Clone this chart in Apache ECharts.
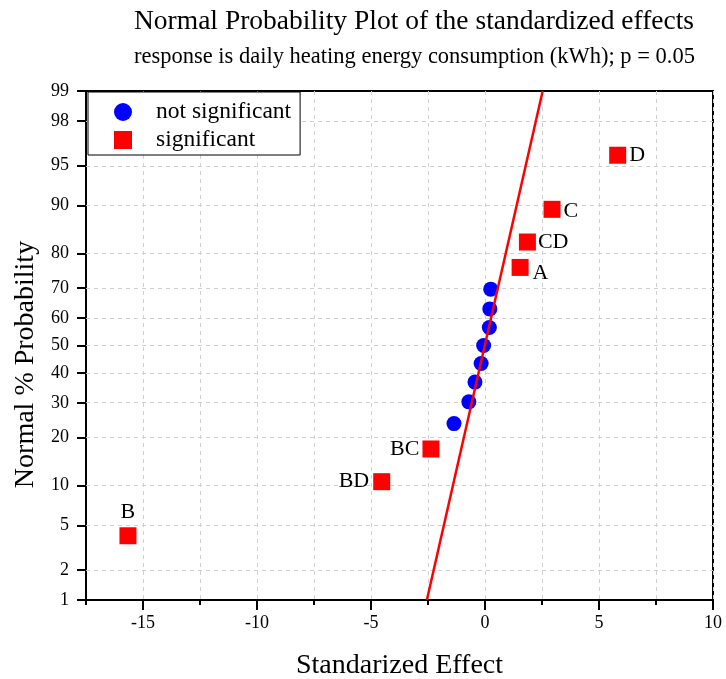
<!DOCTYPE html>
<html>
<head>
<meta charset="utf-8">
<script src="https://cdn.jsdelivr.net/npm/echarts@6/dist/echarts.min.js"></script>
<style>html,body{margin:0;padding:0;background:#fff;}#chart{width:726px;height:679px;}</style>
</head>
<body>
<div id="chart"></div>
<script>
// ---- data ----
const notSigX = [-1.36, -0.71, -0.44, -0.17, -0.06, 0.19, 0.21, 0.25];
const notSigP = [23.77, 30.33, 36.89, 43.44, 50.00, 56.56, 63.11, 69.67];
const sigNames = ['B', 'BD', 'BC', 'A', 'CD', 'C', 'D'];
const sigX = [-15.66, -4.53, -2.37, 1.54, 1.86, 2.94, 5.82];
const sigP = [4.10, 10.66, 17.21, 76.23, 82.79, 89.34, 95.90];
const refLineX = [-2.55, 2.53];
const refLineP = [1, 99];
const yTickLabels = [1, 2, 5, 10, 20, 30, 40, 50, 60, 70, 80, 90, 95, 98, 99];
const xTickLabels = [-15, -10, -5, 0, 5, 10];

// inverse normal CDF (Acklam)
function probit(p) {
  const a=[-3.969683028665376e+01,2.209460984245205e+02,-2.759285104469687e+02,1.383577518672690e+02,-3.066479806614716e+01,2.506628277459239e+00];
  const b=[-5.447609879822406e+01,1.615858368580409e+02,-1.556989798598866e+02,6.680131188771972e+01,-1.328068155288572e+01];
  const c=[-7.784894002430293e-03,-3.223964580411365e-01,-2.400758277161838e+00,-2.549732539343734e+00,4.374664141464968e+00,2.938163982698783e+00];
  const d=[7.784695709041462e-03,3.224671290700398e-01,2.445134137142996e+00,3.754408661907416e+00];
  const pl=0.02425, ph=1-pl; let q, r;
  if (p < pl) { q=Math.sqrt(-2*Math.log(p)); return (((((c[0]*q+c[1])*q+c[2])*q+c[3])*q+c[4])*q+c[5])/((((d[0]*q+d[1])*q+d[2])*q+d[3])*q+1); }
  if (p <= ph) { q=p-0.5; r=q*q; return (((((a[0]*r+a[1])*r+a[2])*r+a[3])*r+a[4])*r+a[5])*q/(((((b[0]*r+b[1])*r+b[2])*r+b[3])*r+b[4])*r+1); }
  q=Math.sqrt(-2*Math.log(1-p)); return -(((((c[0]*q+c[1])*q+c[2])*q+c[3])*q+c[4])*q+c[5])/((((d[0]*q+d[1])*q+d[2])*q+d[3])*q+1);
}
const z = p => probit(p / 100);

// ---- styles ----
const FONT = '"Liberation Serif", "Times New Roman", serif';
const labelPlacement = {
  B:  {position: 'top', distance: 4},
  BD: {position: 'left', distance: 4},
  BC: {position: 'left', distance: 3},
  A:  {position: 'right', distance: 4, offset: [0, 6]},
  CD: {position: 'right', distance: 2},
  C:  {position: 'right', distance: 3, offset: [0, 2]},
  D:  {position: 'right', distance: 3}
};

const yTickZ = yTickLabels.map(z);
const zMin = z(1), zMax = z(99);

const chart = echarts.init(document.getElementById('chart'), null, {renderer: 'canvas'});
chart.setOption({
  animation: false,
  backgroundColor: '#fff',
  title: [
    {text: 'Normal Probability Plot of the standardized effects', left: 129, top: 3,
     textStyle: {fontFamily: FONT, fontSize: 27.5, fontWeight: 'normal', color: '#000'}},
    {text: 'response is daily heating energy consumption (kWh); p = 0.05', left: 129, top: 41,
     textStyle: {fontFamily: FONT, fontSize: 22.5, fontWeight: 'normal', color: '#000'}}
  ],
  grid: {left: 86, right: 13, top: 91, bottom: 79, outerBoundsMode: 'none', containLabel: false,
         show: true, borderColor: '#000', borderWidth: 2, backgroundColor: 'transparent'},
  legend: {
    data: ['not significant', 'significant'],
    orient: 'vertical', left: 88, top: 92,
    padding: [8, 9, 3, 26], itemGap: 4,
    itemWidth: 18, itemHeight: 18,
    backgroundColor: '#fff', borderColor: '#000', borderWidth: 1, borderRadius: 0,
    itemStyle: {opacity: 1},
    textStyle: {fontFamily: FONT, fontSize: 23.5, color: '#000', padding: [0, 0, 0, 19], lineHeight: 20}
  },
  xAxis: [
    {type: 'value', min: -17.5, max: 10, interval: 2.5,
     axisLine: {show: true, onZero: false, lineStyle: {color: '#000', width: 2}},
     axisTick: {show: true, length: 5, lineStyle: {color: '#000', width: 2}},
     axisLabel: {fontFamily: FONT, fontSize: 18, color: '#000', margin: 14,
                 formatter: v => (xTickLabels.indexOf(Math.round(v*100)/100) >= 0 ? String(v) : '')},
     splitLine: {show: true, lineStyle: {color: '#d0d0d0', type: [4, 4], width: 1}},
     name: 'Standarized Effect', nameLocation: 'middle', nameGap: 52,
     nameTextStyle: {fontFamily: FONT, fontSize: 28, color: '#000'}},
    {type: 'value', min: -17.5, max: 10, interval: 2.5, position: 'bottom',
     axisLine: {show: false, onZero: false},
     axisTick: {show: true, length: 10, customValues: xTickLabels, lineStyle: {color: '#000', width: 2}},
     axisLabel: {show: false}, splitLine: {show: false}}
  ],
  yAxis: {
    type: 'value', min: zMin, max: zMax,
    axisLine: {show: true, onZero: false, lineStyle: {color: '#000', width: 2}},
    axisTick: {show: true, length: 9, customValues: yTickZ, lineStyle: {color: '#000', width: 2}},
    axisLabel: {fontFamily: FONT, fontSize: 18, color: '#000', margin: 17, customValues: yTickZ,
      formatter: v => { let best = 0, bd = 1e9; yTickZ.forEach((t, i) => { const dd = Math.abs(t - v); if (dd < bd) { bd = dd; best = i; } }); return String(yTickLabels[best]); }},
    splitLine: {show: false},
    name: 'Normal % Probability', nameLocation: 'middle', nameGap: 46,
    nameTextStyle: {fontFamily: FONT, fontSize: 28, color: '#000', padding: [0, 38, 0, 0]}
  },
  series: [
    {type: 'line', name: 'gridY', silent: true, data: [], z: 1,
     markLine: {silent: true, symbol: 'none', label: {show: false}, z: 1,
       lineStyle: {color: '#d0d0d0', type: [4, 4], width: 1},
       data: yTickZ.slice(1, -1).map(v => ({yAxis: v}))}},
    {type: 'scatter', name: 'not significant', symbol: 'circle', symbolSize: 15, z: 3,
     itemStyle: {color: '#0000ff', opacity: 1},
     data: notSigX.map((x, i) => [x, z(notSigP[i])])},
    {type: 'scatter', name: 'significant', symbol: 'rect', symbolSize: 17, z: 3,
     itemStyle: {color: '#ff0000', opacity: 1},
     data: sigX.map((x, i) => ({
       value: [x, z(sigP[i])],
       label: Object.assign({show: true, formatter: sigNames[i], fontFamily: FONT, fontSize: 22, color: '#000'}, labelPlacement[sigNames[i]])
     }))},
    {type: 'line', name: 'ref', symbol: 'none', z: 4, silent: true,
     lineStyle: {color: '#ff0000', width: 2.5},
     data: refLineX.map((x, i) => [x, z(refLineP[i])])}
  ]
});
</script>
</body>
</html>
